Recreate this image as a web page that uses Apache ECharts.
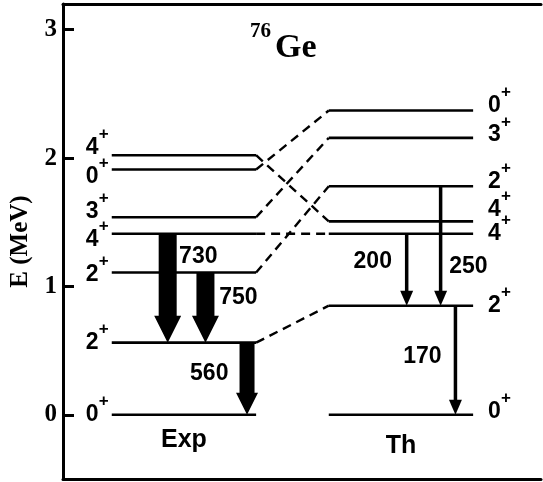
<!DOCTYPE html>
<html>
<head>
<meta charset="utf-8">
<script src="https://cdn.jsdelivr.net/npm/echarts@6/dist/echarts.min.js"></script>
<style>
html, body { margin: 0; padding: 0; background: #fff; }
#chart { width: 543px; height: 482px; }
</style>
</head>
<body>
<div id="chart"></div>
<script>
"use strict";

// level energies (MeV) and spins, experiment and theory
var expEnergy = [0, 0.562, 1.108, 1.41, 1.539, 1.911, 2.022];
var expSpin = ['0', '2', '2', '4', '3', '0', '4'];
var thEnergy = [0, 0.85, 1.41, 1.507, 1.78, 2.157, 2.37];
var thSpin = ['0', '2', '4', '4', '2', '3', '0'];

// dashed correspondence, exp level index -> th level index
var linkExp = [1, 2, 3, 4, 5, 6];
var linkTh = [1, 4, 2, 5, 6, 3];

// transitions
var expGammaFrom = [3, 2, 1];
var expGammaTo = [1, 1, 0];
var expGammaText = ['730', '750', '560'];
var thGammaFrom = [2, 4, 1];
var thGammaTo = [1, 1, 0];
var thGammaText = ['200', '250', '170'];

var yTicks = [0, 1, 2, 3];
var columnNames = ['Exp', 'Th'];

// layout (x in axis units 0..10)
var expCol = [1.02, 4.04];
var thCol = [5.56, 8.58];
var expGammaX = [2.19, 2.98, 3.85];
var thGammaX = [7.19, 7.90, 8.21];
var expArrowSize = [[18, 27, 27], [18, 27, 27], [15, 22, 22]]; // shaft, head width, head length
var expGammaLabelPos = [[2.83, 1.229], [3.67, 0.91], [3.06, 0.318]];
var thGammaLabelPos = [[6.48, 1.19], [8.48, 1.151], [7.52, 0.45]];
var expSpinShift = [0, 0, 2, 6, -6, 7, -8];
var thSpinShift = [-3, 0, 0, -12, -5, -3, -5];
var colLabelShift = [25, 31];

var SANS = '"Liberation Sans", Arial, sans-serif';
var SERIF = '"Liberation Serif", "Times New Roman", serif';
var DIGIT_W = 13;

var myChart = echarts.init(document.getElementById('chart'));

var levelData = [];
var spinData = [];
for (var i = 0; i < expEnergy.length; i++) {
	levelData.push([expCol[0], expCol[1], expEnergy[i]]);
	spinData.push([expCol[0], expEnergy[i], 0, i]);
}
for (var j = 0; j < thEnergy.length; j++) {
	levelData.push([thCol[0], thCol[1], thEnergy[j]]);
	spinData.push([thCol[1], thEnergy[j], 1, j]);
}

var linkData = [];
for (var k = 0; k < linkExp.length; k++) {
	linkData.push([expCol[1], expEnergy[linkExp[k]], thCol[0], thEnergy[linkTh[k]]]);
}

var arrowData = [];
for (var a = 0; a < expGammaFrom.length; a++) {
	arrowData.push([expGammaX[a], expEnergy[expGammaFrom[a]], expEnergy[expGammaTo[a]], 0, a]);
}
for (var b = 0; b < thGammaFrom.length; b++) {
	arrowData.push([thGammaX[b], thEnergy[thGammaFrom[b]], thEnergy[thGammaTo[b]], 1, b]);
}

var gammaLabelData = [];
for (var c = 0; c < expGammaText.length; c++) {
	gammaLabelData.push([expGammaLabelPos[c][0], expGammaLabelPos[c][1]]);
}
for (var d = 0; d < thGammaText.length; d++) {
	gammaLabelData.push([thGammaLabelPos[d][0], thGammaLabelPos[d][1]]);
}

var colData = [[(expCol[0] + expCol[1]) / 2, 0], [(thCol[0] + thCol[1]) / 2, 0]];

function renderLevel(params, api) {
	var p = api.coord([api.value(0), api.value(2)]);
	var q = api.coord([api.value(1), api.value(2)]);
	return {
		type: 'line',
		shape: { x1: p[0], y1: p[1], x2: q[0], y2: q[1] },
		style: { stroke: '#000', lineWidth: 2.6 }
	};
}

function renderLink(params, api) {
	var p = api.coord([api.value(0), api.value(1)]);
	var q = api.coord([api.value(2), api.value(3)]);
	return {
		type: 'line',
		shape: { x1: p[0], y1: p[1], x2: q[0], y2: q[1] },
		style: { stroke: '#000', lineWidth: 2.4, lineDash: [9, 6] }
	};
}

function renderArrow(params, api) {
	var top = api.coord([api.value(0), api.value(1)]);
	var tip = api.coord([api.value(0), api.value(2)]);
	var x = top[0];
	if (api.value(3) === 0) {
		var s = expArrowSize[api.value(4)];
		var w = s[0] / 2, hw = s[1] / 2, hl = s[2];
		return {
			type: 'polygon',
			shape: { points: [
				[x - w, top[1]], [x - w, tip[1] - hl], [x - hw, tip[1] - hl], [x, tip[1]],
				[x + hw, tip[1] - hl], [x + w, tip[1] - hl], [x + w, top[1]]
			] },
			style: { fill: '#000' }
		};
	}
	return {
		type: 'group',
		children: [{
			type: 'line',
			shape: { x1: x, y1: top[1], x2: x, y2: tip[1] - 12 },
			style: { stroke: '#000', lineWidth: 3.5 }
		}, {
			type: 'polygon',
			shape: { points: [[x - 6.5, tip[1] - 15], [x + 6.5, tip[1] - 15], [x, tip[1]]] },
			style: { fill: '#000' }
		}]
	};
}

function renderSpin(params, api) {
	var p = api.coord([api.value(0), api.value(1)]);
	var side = api.value(2);
	var idx = api.value(3);
	var spin, dx, y;
	if (side === 0) {
		spin = expSpin[idx];
		y = p[1] + expSpinShift[idx];
		dx = p[0] - 13 - DIGIT_W;
	} else {
		spin = thSpin[idx];
		y = p[1] + thSpinShift[idx];
		dx = p[0] + 15;
	}
	return {
		type: 'group',
		children: [{
			type: 'text',
			x: dx, y: y,
			style: { text: spin, fill: '#000', fontSize: 23, fontWeight: 'bold', fontFamily: SANS, align: 'left', verticalAlign: 'middle' }
		}, {
			type: 'text',
			x: dx + DIGIT_W, y: y - 13,
			style: { text: '+', fill: '#000', fontSize: 17, fontWeight: 'bold', fontFamily: SANS, align: 'left', verticalAlign: 'middle' }
		}]
	};
}

function renderGammaLabel(params, api) {
	var p = api.coord([api.value(0), api.value(1)]);
	var idx = params.dataIndex;
	var txt = idx < expGammaText.length ? expGammaText[idx] : thGammaText[idx - expGammaText.length];
	return {
		type: 'text',
		x: p[0], y: p[1],
		style: { text: txt, fill: '#000', fontSize: 23, fontWeight: 'bold', fontFamily: SANS, align: 'center', verticalAlign: 'middle' }
	};
}

function renderColumn(params, api) {
	var p = api.coord([api.value(0), api.value(1)]);
	return {
		type: 'text',
		x: p[0], y: p[1] + colLabelShift[params.dataIndex],
		style: { text: columnNames[params.dataIndex], fill: '#000', fontSize: 25, fontWeight: 'bold', fontFamily: SANS, align: 'center', verticalAlign: 'middle' }
	};
}

var frameLine = { show: true, onZero: false, lineStyle: { color: '#000', width: 3 } };

var option = {
	animation: false,
	backgroundColor: '#fff',
	grid: { left: 61, right: 2, top: 4, bottom: 3 },
	xAxis: [{
		type: 'value', min: 0, max: 10, position: 'bottom',
		axisLine: frameLine, axisTick: { show: false }, axisLabel: { show: false }, splitLine: { show: false }
	}, {
		type: 'value', min: 0, max: 10, position: 'top',
		axisLine: frameLine, axisTick: { show: false }, axisLabel: { show: false }, splitLine: { show: false }
	}],
	yAxis: {
		type: 'value', min: -0.5, max: 3.2,
		axisLine: frameLine,
		axisTick: { show: true, inside: true, length: 11, customValues: yTicks, lineStyle: { color: '#000', width: 3 } },
		axisLabel: { customValues: yTicks, color: '#000', fontFamily: SERIF, fontWeight: 'bold', fontSize: 25, margin: 6 },
		splitLine: { show: false },
		name: 'E (MeV)', nameLocation: 'middle', nameGap: 30,
		nameTextStyle: { color: '#000', fontFamily: SERIF, fontWeight: 'bold', fontSize: 25 }
	},
	graphic: [{
		type: 'text', left: 275, top: 31,
		style: { text: 'Ge', fill: '#000', font: 'bold 34px ' + SERIF }
	}, {
		type: 'text', left: 250, top: 21,
		style: { text: '76', fill: '#000', font: 'bold 21px ' + SERIF }
	}],
	series: [
		{ type: 'custom', renderItem: renderLink, data: linkData, silent: true },
		{ type: 'custom', renderItem: renderLevel, data: levelData, silent: true },
		{ type: 'custom', renderItem: renderArrow, data: arrowData, silent: true },
		{ type: 'custom', renderItem: renderSpin, data: spinData, silent: true },
		{ type: 'custom', renderItem: renderGammaLabel, data: gammaLabelData, silent: true },
		{ type: 'custom', renderItem: renderColumn, data: colData, silent: true }
	]
};

myChart.setOption(option);
</script>
</body>
</html>
